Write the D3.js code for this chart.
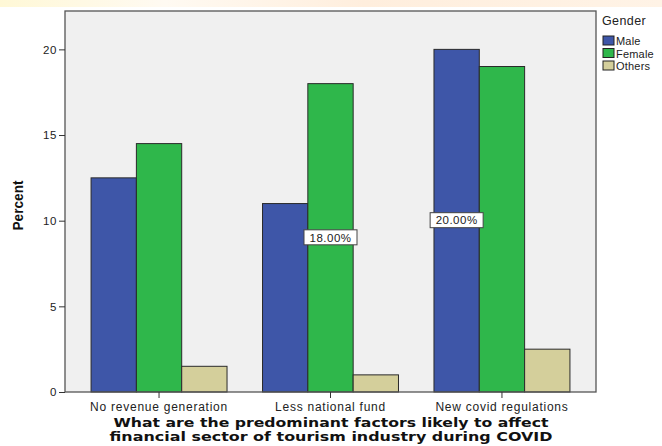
<!DOCTYPE html>
<html>
<head>
<meta charset="utf-8">
<script src="https://cdn.jsdelivr.net/npm/d3@7"></script>
<style>
  body { margin: 0; background: #fff; }
  svg text { font-family: "Liberation Sans", Arial, sans-serif; }
</style>
</head>
<body>
<div id="chart"></div>
<script>
const categories = ["No revenue generation", "Less national fund", "New covid regulations"]
const genders = ["Male", "Female", "Others"]
const maleValues = [12.5, 11, 20]
const femaleValues = [14.5, 18, 19]
const othersValues = [1.5, 1, 2.5]
const yTicks = [0, 5, 10, 15, 20]
const barLabels = [{cat: "Less national fund", gender: "Female", text: "18.00%"},
                   {cat: "New covid regulations", gender: "Male", text: "20.00%"}]

const colors = {Male: "#3e56a8", Female: "#2fb74b", Others: "#d4cf9b"}
const seriesByGender = {Male: maleValues, Female: femaleValues, Others: othersValues}

const W = 662, H = 446
const margin = {top: 11, right: 66, bottom: 54, left: 65}
const width = W - margin.left - margin.right
const height = H - margin.top - margin.bottom

const svg = d3.select("#chart").append("svg")
    .attr("width", W)
    .attr("height", H)

// faint banner at the very top
const grad = svg.append("defs").append("linearGradient").attr("id", "band")
grad.append("stop").attr("offset", "0%").attr("stop-color", "#fff8d6")
grad.append("stop").attr("offset", "25%").attr("stop-color", "#fffaf2")
grad.append("stop").attr("offset", "55%").attr("stop-color", "#ffeedd")
grad.append("stop").attr("offset", "100%").attr("stop-color", "#fff3e6")
svg.append("rect").attr("x", 0).attr("y", 0).attr("width", W).attr("height", 7)
   .attr("fill", "url(#band)")

const g = svg.append("g").attr("transform", "translate(" + margin.left + "," + margin.top + ")")

const x0 = d3.scaleBand().domain(categories).range([0, width])
             .paddingInner(0.207).paddingOuter(0.152)
const x1 = d3.scaleBand().domain(genders).range([0, x0.bandwidth()])
const y = d3.scaleLinear().domain([0, 22.24]).range([height, 0])

g.append("rect")
 .attr("width", width).attr("height", height)
 .attr("fill", "#f0f0f0")

const data = []
categories.forEach((c, i) => {
    genders.forEach(s => data.push({cat: c, gender: s, value: seriesByGender[s][i]}))
})

g.selectAll("rect.bar")
 .data(data)
 .join("rect")
 .attr("class", "bar")
 .attr("x", d => x0(d.cat) + x1(d.gender))
 .attr("y", d => y(d.value))
 .attr("width", x1.bandwidth())
 .attr("height", d => height - y(d.value))
 .attr("fill", d => colors[d.gender])
 .attr("stroke", "#2a2a2a")
 .attr("stroke-width", 1)

// frame
g.append("rect")
 .attr("width", width).attr("height", height)
 .attr("fill", "none")
 .attr("stroke", "#555")
 .attr("stroke-width", 1.3)

// y axis
const yAxis = g.append("g")
 .call(d3.axisLeft(y).tickValues(yTicks).tickSize(6).tickPadding(2))
yAxis.select(".domain").remove()
yAxis.selectAll("line").attr("stroke", "#333")
yAxis.selectAll("text")
 .attr("font-size", 11.5).attr("fill", "#222")
 .attr("letter-spacing", 0.6)

// x axis
const xAxis = g.append("g")
 .attr("transform", "translate(0," + height + ")")
 .call(d3.axisBottom(x0).tickSize(6).tickPadding(4))
xAxis.select(".domain").remove()
xAxis.selectAll("line").attr("stroke", "#333")
xAxis.selectAll("text")
 .attr("font-size", 12).attr("fill", "#222")
 .attr("letter-spacing", 0.75)

// value labels
const lab = g.selectAll("g.lab")
 .data(barLabels)
 .join("g")
 .attr("class", "lab")
 .attr("transform", d => {
     const v = seriesByGender[d.gender][categories.indexOf(d.cat)]
     return "translate(" + (x0(d.cat) + x1(d.gender) + x1.bandwidth() / 2) + "," + y(v / 2) + ")"
 })
lab.append("rect")
 .attr("x", -26.5).attr("y", -8).attr("width", 53).attr("height", 15)
 .attr("fill", "#fff").attr("stroke", "#444").attr("stroke-width", 1)
lab.append("text")
 .attr("text-anchor", "middle").attr("dy", "0.32em")
 .attr("font-size", 11.5).attr("fill", "#222").attr("letter-spacing", 0.5)
 .text(d => d.text)

// axis titles
svg.append("text")
 .attr("transform", "translate(23," + (margin.top + height / 2 + 4) + ") rotate(-90)")
 .attr("text-anchor", "middle")
 .attr("font-size", 14.5).attr("font-weight", "bold")
 .attr("fill", "#111")
 .attr("textLength", 50).attr("lengthAdjust", "spacingAndGlyphs")
 .text("Percent")

const xTitle = ["What are the predominant factors likely to affect",
                "financial sector of tourism industry during COVID"]
svg.selectAll("text.xt")
 .data(xTitle)
 .join("text")
 .attr("class", "xt")
 .attr("x", 331)
 .attr("y", (d, i) => 427 + i * 14)
 .attr("text-anchor", "middle")
 .style("font-family", "'DejaVu Sans', Verdana, sans-serif")
 .attr("font-size", 12.5).attr("font-weight", "bold").attr("fill", "#111")
 .attr("textLength", (d, i) => i === 0 ? 435 : 443)
 .attr("lengthAdjust", "spacingAndGlyphs")
 .text(d => d)

// legend
const leg = svg.append("g").attr("transform", "translate(602,0)")
leg.append("text").attr("x", 0).attr("y", 25)
 .attr("font-size", 12.5).attr("fill", "#222").attr("letter-spacing", 0.4)
 .text("Gender")
const items = leg.selectAll("g.item")
 .data(genders)
 .join("g")
 .attr("class", "item")
 .attr("transform", (d, i) => "translate(1," + (36 + i * 12.5) + ")")
items.append("rect")
 .attr("width", 11).attr("height", 9)
 .attr("fill", d => colors[d]).attr("stroke", "#222").attr("stroke-width", 1)
items.append("text")
 .attr("x", 13).attr("y", 9)
 .attr("font-size", 11).attr("fill", "#222").attr("letter-spacing", 0.2)
 .text(d => d)
</script>
</body>
</html>
